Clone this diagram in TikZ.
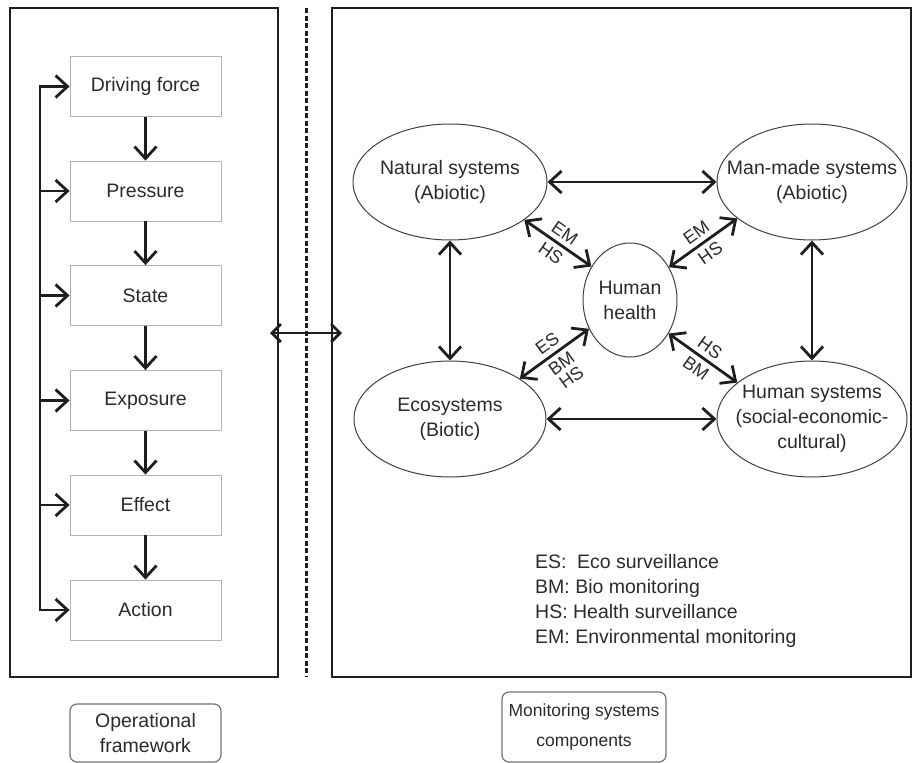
\documentclass[tikz,border=0pt]{standalone}
\usepackage{fontspec}
\setmainfont{Liberation Sans}
\usetikzlibrary{arrows.meta,shapes.geometric}
\definecolor{txt}{HTML}{2B2B2B}
\definecolor{ink}{HTML}{1E1E1E}
\begin{document}
\begin{tikzpicture}[x=1pt,y=-1pt,
  >={Straight Barb[length=12pt,width=22pt]},
  every node/.style={text=txt, font=\fontsize{19.5}{25}\selectfont},
  psr/.style={draw=black!30, line width=0.8pt, minimum width=151pt, minimum height=60pt, inner sep=0pt},
  outer/.style={draw=ink, line width=2pt, inner sep=0pt},
  sys/.style={ellipse, draw=black!75, line width=1pt, inner xsep=-24pt, inner ysep=0pt, align=center},
  arr/.style={draw=ink, line width=2.8pt, ->},
  darr/.style={draw=ink, line width=2.8pt, <->},
  lab/.style={font=\fontsize{18}{17}\selectfont, sloped, inner sep=4.5pt, align=center},
  tag/.style={draw=black!55, line width=1.2pt, rounded corners=7pt, align=center, inner sep=0pt}
]
\useasboundingbox (0,0) rectangle (914,763);

% outer frames
\node[outer, minimum width=268pt, minimum height=669pt] (lb) at (144,342.5) {};
\node[outer, minimum width=579pt, minimum height=669pt] (rb) at (621.5,342.5) {};

% dashed separator
\coordinate (dt) at (306,8);
\coordinate (db) at (306,677);
\draw[ink, line width=3pt, dash pattern=on 5pt off 2.5pt] (dt) -- (db);

% link between frames
\coordinate (la) at (270,333);
\coordinate (ra) at (342,333);
\draw[darr, {Straight Barb[length=9pt,width=18pt]}-{Straight Barb[length=9pt,width=18pt]}] (la) -- (ra);

% operational framework chain
\node[psr] (df) at (145.5,86.5) {Driving force};
\node[psr] (pr) at (145.5,191) {Pressure};
\node[psr] (st) at (145.5,295.5) {State};
\node[psr] (ex) at (145.5,400.5) {Exposure};
\node[psr] (ef) at (145.5,505) {Effect};
\node[psr] (ac) at (145.5,610) {Action};

\draw[arr] (df.south) -- (pr.north);
\draw[arr] (pr.south) -- (st.north);
\draw[arr] (st.south) -- (ex.north);
\draw[arr] (ex.south) -- (ef.north);
\draw[arr] (ef.south) -- (ac.north);

\coordinate (fbx) at (40,0);
\draw[draw=ink, line width=2.8pt, line cap=rect] (df.west -| fbx) -- (ac.west -| fbx);
\foreach \n in {df,pr,st,ex,ef,ac}
  \draw[arr] (\n.west -| fbx) -- (\n.west);

% monitoring systems
\node[sys, minimum width=194pt, minimum height=116pt] (nat) at (450,182) {Natural systems\\(Abiotic)};
\node[sys, minimum width=190pt, minimum height=116pt] (mm) at (812,182) {Man-made systems\\(Abiotic)};
\node[sys, minimum width=94pt, minimum height=114pt] (hh) at (630,300) {Human\\health};
\node[sys, minimum width=192pt, minimum height=116pt] (eco) at (450,419) {Ecosystems\\(Biotic)};
\node[sys, minimum width=190pt, minimum height=116pt] (hs) at (812,419) {Human systems\\(social-economic-\\cultural)};

\draw[darr] (nat.east) -- (mm.west);
\draw[darr] (eco.east) -- (hs.west);
\draw[darr] (nat.south) -- (eco.north);
\draw[darr] (mm.south) -- (hs.north);

\draw[darr] (nat.-27) -- node[lab, above]{EM} node[lab, below]{HS} (hh.139);
\draw[darr] (hh.40) -- node[lab, above]{EM} node[lab, below]{HS} (mm.-154);
\draw[darr] (eco.30) -- node[lab, above]{ES} node[lab, below]{BM\\HS} (hh.-145);
\draw[darr] (hh.-41) -- node[lab, above]{HS} node[lab, below]{BM} (hs.154);

% legend
\node[anchor=north west, align=left, inner sep=0pt] (leg) at (535,554)
  {ES:\hspace{5pt} Eco surveillance\\BM: Bio monitoring\\HS: Health surveillance\\EM: Environmental monitoring};

% captions
\node[tag, minimum width=151pt, minimum height=58pt, font=\fontsize{19.5}{25}\selectfont] (opf) at (145.5,733) {Operational\\framework};
\node[tag, minimum width=164pt, minimum height=70pt, font=\fontsize{17.5}{30}\selectfont] (msc) at (584,727) {Monitoring systems\\components};
\end{tikzpicture}
\end{document}
